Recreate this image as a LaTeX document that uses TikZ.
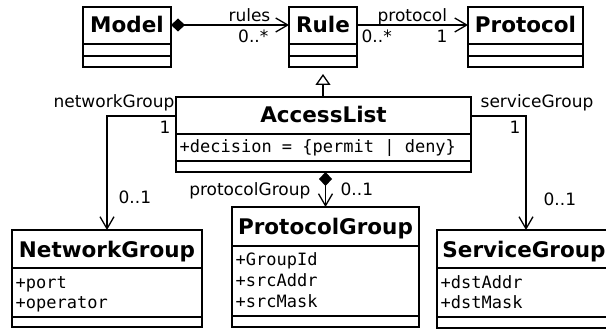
\documentclass[tikz,border=0pt]{standalone}
\usepackage{fontspec}
\setmainfont{DejaVu Sans}
\setmonofont{DejaVu Sans Mono}
\usetikzlibrary{arrows.meta}
\begin{document}
\begin{tikzpicture}[x=1pt,y=-1pt,line width=1.3pt,
  classbox/.style={draw,inner sep=0pt,outer sep=0pt,anchor=north west},
  ctitle/.style={font=\fontsize{21.5}{25}\selectfont\bfseries,anchor=base,inner sep=0pt},
  cattr/.style={font=\fontsize{17}{21}\selectfont\ttfamily,anchor=base west,inner sep=0pt},
  lbl/.style={font=\fontsize{17}{20}\selectfont,inner sep=0pt},
  assoc/.style={-{Straight Barb[length=12pt,width=14pt]}},
  comp/.style={{Diamond[length=14pt,width=13pt]}-{Straight Barb[length=12pt,width=14pt]}},
  gen/.style={-{Triangle[open,length=11pt,width=15pt,fill=white]}}
]
\useasboundingbox (0,0) rectangle (606,329);
\clip (0,0) rectangle (606,329);

% Model
\node[classbox,minimum width=88,minimum height=60] (model) at (83,7) {};
\node[ctitle] (modelT) at (127,33) {Model};
\draw (83,44) -- (171,44) (83,56) -- (171,56);

% Rule
\node[classbox,minimum width=68,minimum height=60] (rule) at (289,7) {};
\node[ctitle] (ruleT) at (323,33) {Rule};
\draw (289,44) -- (357,44) (289,56) -- (357,56);

% Protocol
\node[classbox,minimum width=115,minimum height=60] (proto) at (468,7) {};
\node[ctitle] (protoT) at (525.5,33) {Protocol};
\draw (468,44) -- (583,44) (468,56) -- (583,56);

% AccessList
\node[classbox,minimum width=295,minimum height=75] (al) at (176,97) {};
\node[ctitle] (alT) at (323.5,123) {AccessList};
\draw (176,134) -- (471,134) (176,161) -- (471,161);
\node[cattr] (alA) at (179,153) {+decision = \{permit | deny\}};

% NetworkGroup
\node[classbox,minimum width=190,minimum height=97] (ng) at (12,230) {};
\node[ctitle] (ngT) at (107,257.5) {NetworkGroup};
\draw (12,268) -- (202,268) (12,317) -- (202,317);
\node[cattr] (ngA1) at (15,288) {+port};
\node[cattr] (ngA2) at (15,308) {+operator};

% ProtocolGroup
\node[classbox,minimum width=187,minimum height=120] (pg) at (232,207) {};
\node[ctitle] (pgT) at (325.5,234) {ProtocolGroup};
\draw (232,246) -- (419,246) (232,316) -- (419,316);
\node[cattr] (pgA1) at (235,265) {+GroupId};
\node[cattr] (pgA2) at (235,286) {+srcAddr};
\node[cattr] (pgA3) at (235,307) {+srcMask};

% ServiceGroup
\node[classbox,minimum width=178,minimum height=98] (sg) at (437,230) {};
\node[ctitle] (sgT) at (524,257.5) {ServiceGroup};
\draw (437,268) -- (615,268) (437,317) -- (615,317);
\node[cattr] (sgA1) at (440,288) {+dstAddr};
\node[cattr] (sgA2) at (440,308) {+dstMask};

% connectors
\draw[comp] ([yshift=-18pt]model.north east) -- ([yshift=-18pt]rule.north west);
\draw[assoc] ([yshift=-18pt]rule.north east) -- ([yshift=-18pt]proto.north west);
\draw[gen,shorten >=7pt] (al.north -| rule.south) -- (rule.south);
\draw[assoc] ([yshift=-19pt]al.north west) -| (ng.north);
\draw[assoc] ([yshift=-19pt]al.north east) -| (sg.north);
\draw[comp] (al.south -| pg.north) -- (pg.north);

% labels
\node[lbl,anchor=base east] (l1) at (271,21.5) {rules};
\node[lbl,anchor=base east] (l2) at (269,43) {0..*};
\node[lbl,anchor=base west] (l3) at (377,21.5) {protocol};
\node[lbl,anchor=base west] (l4) at (361,43) {0..*};
\node[lbl,anchor=base east] (l5) at (448,43) {1};
\node[lbl,anchor=base east] (l6) at (175,108) {networkGroup};
\node[lbl,anchor=base east] (l7) at (171,133) {1};
\node[lbl,anchor=base west] (l8) at (118,204) {0..1};
\node[lbl,anchor=base west] (l9) at (480,108) {serviceGroup};
\node[lbl,anchor=base east] (l10) at (521,133) {1};
\node[lbl,anchor=base west] (l11) at (543,205) {0..1};
\node[lbl,anchor=base east] (l12) at (311,196) {protocolGroup};
\node[lbl,anchor=base west] (l13) at (340,195) {0..1};
\end{tikzpicture}
\end{document}
